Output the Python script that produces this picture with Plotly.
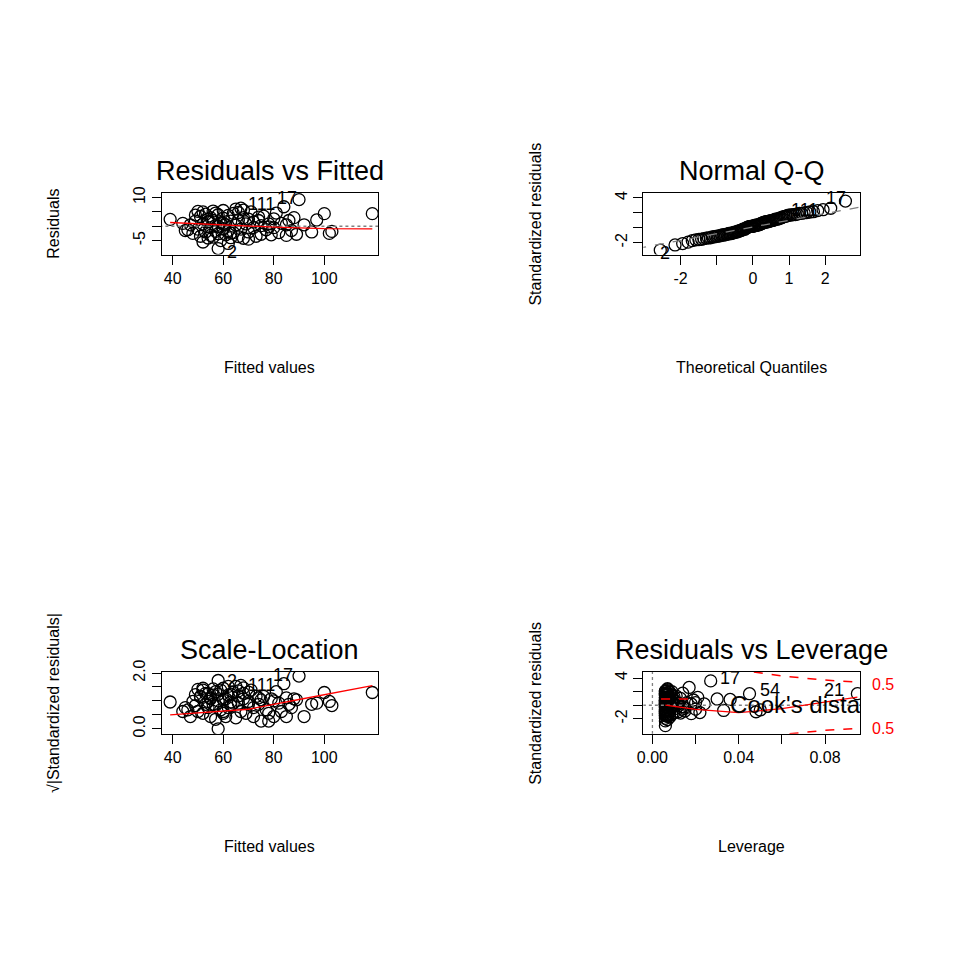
import plotly.graph_objects as go
from statistics import NormalDist

fitted = [39, 44, 46, 47, 48, 49, 50, 50, 51, 51, 52, 52, 53, 53, 54, 54, 55, 55, 55, 56,
          56, 57, 57, 58, 58, 58, 59, 59, 60, 60, 60, 61, 61, 62, 62, 63, 63, 64, 64, 65,
          65, 66, 66, 67, 67, 68, 68, 69, 70, 70, 71, 72, 72, 73, 74, 75, 75, 76, 77, 78,
          79, 80, 80, 81, 82, 83, 84, 85, 85, 86, 87, 88, 89, 90, 92, 95, 97, 100, 102, 103,
          119, 52, 54, 56, 60, 62, 66, 70, 74, 78, 45, 49, 57, 63, 68, 58]
resid = [2.4, 1.0, -1.2, 0.5, -2.5, 1.8, 5.2, -1.0, 3.4, -3.5, 5.0, 0.8, -2.0, 4.2, -4.1, 1.5, 3.0, -0.5, -3.2, 5.3,
         2.0, -1.8, 0.3, -7.8, 4.0, -2.6, 1.2, -5.0, 2.8, -0.8, 5.5, -3.0, 0.5, 3.8, -1.5, -4.0, 1.8, 4.5, -2.2, 0.4,
         6.0, -3.6, 2.2, 6.3, -1.0, 3.0, -4.2, 0.8, 2.5, -2.0, 5.0, -0.5, 1.5, -3.5, 2.0, 0.2, -2.8, 3.5, -1.2, 0.8,
         -3.0, 2.6, -0.5, 4.6, -2.2, 1.0, 6.8, -3.2, 0.5, 2.0, -1.5, 3.0, -2.8, 9.3, 0.5, -2.0, 2.2, 4.4, -2.5, -1.8,
         4.4, -5.5, 2.5, -3.8, 1.0, -6.0, 4.8, -4.5, 3.2, -0.2, -1.5, 3.9, 4.6, -2.4, 5.6, 0.0]
leverage = [0.030, 0.020, 0.015, 0.012, 0.012, 0.010, 0.009, 0.009, 0.008, 0.008, 0.008, 0.007, 0.007, 0.007, 0.007, 0.006, 0.006, 0.006, 0.006, 0.006,
            0.006, 0.006, 0.006, 0.006, 0.006, 0.006, 0.006, 0.006, 0.006, 0.006, 0.006, 0.006, 0.006, 0.006, 0.006, 0.006, 0.006, 0.006, 0.006, 0.006,
            0.007, 0.007, 0.007, 0.007, 0.007, 0.007, 0.007, 0.008, 0.008, 0.008, 0.008, 0.009, 0.009, 0.009, 0.010, 0.010, 0.010, 0.011, 0.011, 0.012,
            0.013, 0.013, 0.014, 0.014, 0.015, 0.016, 0.017, 0.018, 0.018, 0.019, 0.020, 0.021, 0.022, 0.027, 0.024, 0.033, 0.036, 0.045, 0.048, 0.050,
            0.095, 0.007, 0.007, 0.006, 0.006, 0.006, 0.007, 0.008, 0.010, 0.012, 0.014, 0.009, 0.006, 0.006, 0.007, 0.006]
sigma = 2.6
std_res = [r / sigma for r in resid]
sqrt_std = [abs(s) ** 0.5 for s in std_res]
n = len(std_res)
sorted_std = sorted(std_res)
theo = [NormalDist().inv_cdf((i + 0.5) / n) for i in range(n)]

lowess_rf_x = [39, 60, 80, 100, 119]
lowess_rf_y = [1.3, 0.5, -0.3, -0.8, -0.9]
lowess_sl_x = [39, 60, 70, 90, 119]
lowess_sl_y = [0.5, 0.62, 0.7, 1.05, 1.55]
lowess_lv_x = [0.006, 0.02, 0.04, 0.06, 0.095]
lowess_lv_y = [0.0, -0.6, -1.1, -0.5, 1.2]
cook_x = [0.047, 0.06, 0.08, 0.1]
cook_up = [4.9, 4.3, 3.7, 3.3]
cook_short_x = [0.004, 0.02]
cook_short_y = [0.9, 0.9]

# compensate the observed page offset/scale of the rendered figure
def W(px): return ((px - 15) / 0.99) / 960
def H(py): return 1 - ((py - 20) / 0.985) / 960

fig = go.Figure()
mk = dict(symbol="circle-open", size=12, color="black", line=dict(width=1.3))
def pts(x, y, ax):
    fig.add_trace(go.Scatter(x=x, y=y, mode="markers", marker=mk, xaxis="x" + ax, yaxis="y" + ax, showlegend=False))
def line(x, y, ax, color="red", dash="solid", width=1.3):
    fig.add_trace(go.Scatter(x=x, y=y, mode="lines", line=dict(color=color, dash=dash, width=width), xaxis="x" + ax, yaxis="y" + ax, showlegend=False))

pts(fitted, resid, "")
line([30, 130], [0, 0], "", color="gray", dash="dot")
line(lowess_rf_x, lowess_rf_y, "")
pts(theo, sorted_std, "2")
line([-3.2, 3.2], [-3.2 * 0.9 + 0.1, 3.2 * 0.9 + 0.1], "2", color="gray", dash="dash")
pts(fitted, sqrt_std, "3")
line(lowess_sl_x, lowess_sl_y, "3")
pts(leverage, std_res, "4")
line([-0.01, 0.1], [0, 0], "4", color="gray", dash="dot")
line([0, 0], [-6, 6], "4", color="gray", dash="dot")
line(lowess_lv_x, lowess_lv_y, "4")
line(cook_x, cook_up, "4", dash="dash", width=1.5)
line(cook_x, [-v for v in cook_up], "4", dash="dash", width=1.5)
line(cook_short_x, cook_short_y, "4", dash="dash", width=1.5)
fig.add_trace(go.Scatter(x=[0.036], y=[-0.3], mode="text", text=["Cook's distance"], textposition="middle right",
                         textfont=dict(family="Liberation Sans", size=24, color="black"), cliponaxis=True,
                         xaxis="x4", yaxis="y4", showlegend=False))

axstyle = dict(showgrid=False, zeroline=False, showline=True, mirror=True, linecolor="black",
               ticks="outside", ticklen=9, tickcolor="black", tickfont=dict(family="Liberation Sans", size=16, color="black"))
boxes = {"": (162, 378, 193, 255), "2": (642, 858, 193, 255), "3": (162, 378, 673, 735), "4": (642, 858, 673, 735)}
xr = {"": [35.6, 121.4], "2": [-3.03, 2.97], "3": [35.6, 121.4], "4": [-0.0042, 0.0963]}
yr = {"": [-9.9, 11.7], "2": [-3.6, 4.7], "3": [-0.18, 2.04], "4": [-4.2, 4.9]}
xt = {"": ([40, 60, 80, 100], ["40", "60", "80", "100"]), "2": ([-2, -1, 0, 1, 2], ["-2", "", "0", "1", "2"]),
      "3": ([40, 60, 80, 100], ["40", "60", "80", "100"]), "4": ([0, 0.02, 0.04, 0.06, 0.08], ["0.00", "", "0.04", "", "0.08"])}
yt = {"": ([-5, 0, 5, 10], ["-5", "", "", "10"]), "2": ([-2, 0, 2, 4], ["-2", "", "", "4"]),
      "3": ([0, 0.5, 1, 1.5, 2], ["0.0", "", "", "", "2.0"]), "4": ([-2, 0, 2, 4], ["-2", "", "", "4"])}
lay = {}
for k, (l, r, t, b) in boxes.items():
    lay["xaxis" + k] = dict(axstyle, domain=[W(l), W(r)], range=xr[k], anchor="y" + k, tickvals=xt[k][0], ticktext=xt[k][1])
    lay["yaxis" + k] = dict(axstyle, domain=[H(b), H(t)], range=yr[k], anchor="x" + k, tickvals=yt[k][0], ticktext=yt[k][1], tickangle=-90)

ann = []
def txt(x, y, s, size=16, color="black", angle=0, xanchor="center"):
    ann.append(dict(x=W(x), y=H(y), xref="paper", yref="paper", text=s, showarrow=False, textangle=angle,
                    font=dict(family="Liberation Sans", size=size, color=color), xanchor=xanchor, yanchor="middle"))
txt(270, 171, "Residuals vs Fitted", 27)
txt(750, 171, "Normal Q-Q", 27)
txt(270, 651, "Scale-Location", 27)
txt(750, 651, "Residuals vs Leverage", 27)
txt(270, 368, "Fitted values"); txt(270, 848, "Fitted values")
txt(750, 368, "Theoretical Quantiles"); txt(750, 848, "Leverage")
txt(55, 224, "Residuals", angle=-90)
txt(535, 224, "Standardized residuals", angle=-90)
txt(55, 704, "√|Standardized residuals|", angle=-90)
txt(535, 704, "Standardized residuals", angle=-90)
# point labels
txt(262, 204, "111", 18); txt(287, 198, "17", 18); txt(232, 252, "2", 18)
txt(803, 210, "111", 18); txt(834, 198, "17", 18); txt(664, 253, "2", 18)
txt(262, 686, "111", 18); txt(283, 676, "17", 18); txt(232, 682, "2", 18)
txt(728, 679, "17", 18); txt(768, 691, "54", 18); txt(832, 691, "21", 18)
txt(868, 686, "0.5", color="red", xanchor="left"); txt(868, 730, "0.5", color="red", xanchor="left")

fig.update_layout(width=960, height=960, margin=dict(l=0, r=0, t=0, b=0), paper_bgcolor="white", plot_bgcolor="white", annotations=ann, **lay)
fig.write_html("out.html")
